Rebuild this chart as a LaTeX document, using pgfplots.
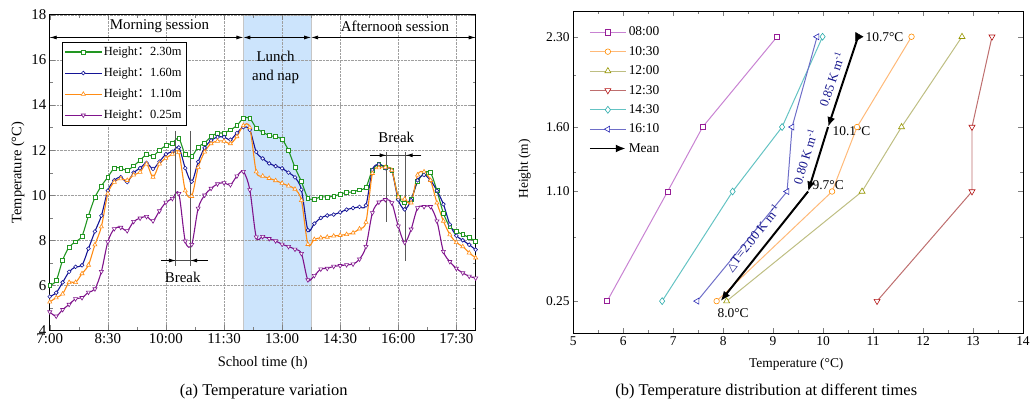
\documentclass[border=0pt]{standalone}
\usepackage{fontspec}
\setmainfont{Liberation Serif}
\newfontfamily\cjk{Noto Sans CJK SC}
\newfontfamily\dejavu{DejaVu Sans}
\usepackage{pgfplots}
\pgfplotsset{compat=1.18}
\usepackage{pgfplotstable}
\usetikzlibrary{arrows.meta}

\definecolor{cg}{RGB}{34,150,34}
\definecolor{cb}{RGB}{20,20,150}
\definecolor{co}{RGB}{255,140,20}
\definecolor{cp}{RGB}{128,20,140}
\definecolor{lunch}{RGB}{204,228,252}
\definecolor{l1}{RGB}{200,130,210}\definecolor{m1}{RGB}{150,30,150}
\definecolor{l2}{RGB}{255,185,120}\definecolor{m2}{RGB}{255,140,0}
\definecolor{l3}{RGB}{190,190,130}\definecolor{m3}{RGB}{150,150,0}
\definecolor{l4}{RGB}{190,110,110}\definecolor{m4}{RGB}{180,20,20}
\definecolor{l5}{RGB}{100,195,195}\definecolor{m5}{RGB}{40,170,170}
\definecolor{l6}{RGB}{110,110,200}\definecolor{m6}{RGB}{40,40,180}
\definecolor{slope}{RGB}{20,20,140}

\pgfplotstableread{
i g b o p
0 6.00 5.50 5.26 4.82
1 6.21 5.67 5.45 4.63
2 7.12 6.13 5.62 4.92
3 7.70 6.60 6.13 5.15
4 7.93 6.82 6.13 5.40
5 8.19 6.89 6.52 5.45
6 9.09 7.63 6.90 5.69
7 9.90 8.39 7.80 5.84
8 10.41 9.09 8.60 6.61
9 10.80 10.20 10.07 7.93
10 11.20 10.66 10.58 8.51
11 11.20 10.80 10.73 8.57
12 11.10 10.58 10.66 8.42
13 11.30 11.00 10.90 8.83
14 11.55 11.20 11.02 8.98
15 11.80 11.43 11.39 9.05
16 11.73 11.17 10.80 8.86
17 12.00 11.49 11.39 9.30
18 12.20 11.82 11.64 9.68
19 12.32 11.93 11.82 9.85
20 12.52 12.12 11.90 10.07
21 11.80 11.20 10.20 7.96
22 11.72 10.60 9.95 7.81
23 12.14 11.48 11.23 9.42
24 12.32 12.10 11.92 10.00
25 12.60 12.43 12.29 10.30
26 12.76 12.58 12.40 10.50
27 12.76 12.58 12.40 10.55
28 12.90 12.46 12.29 10.46
29 13.09 12.76 12.60 10.85
30 13.41 13.02 13.09 11.05
31 13.41 12.90 13.00 10.24
32 12.98 11.92 11.04 8.14
33 12.80 11.63 10.85 8.16
34 12.65 11.41 10.75 8.07
35 12.60 11.29 10.65 7.97
36 12.48 11.19 10.53 7.82
37 11.98 11.00 10.41 7.72
38 11.23 10.79 10.27 7.60
39 10.60 10.24 9.77 7.41
40 9.87 8.45 7.82 6.24
41 9.83 8.74 8.04 6.43
42 9.92 8.99 8.11 6.72
43 9.92 9.10 8.14 6.75
44 9.95 9.14 8.19 6.84
45 10.05 9.24 8.22 6.87
46 10.12 9.36 8.26 6.91
47 10.15 9.43 8.33 6.94
48 10.24 9.48 8.51 7.16
49 10.35 9.55 8.80 7.72
50 11.12 11.12 10.97 9.22
51 11.37 11.37 11.22 9.69
52 11.24 11.20 11.24 9.80
53 11.12 11.10 11.10 9.66
54 9.92 9.80 9.92 8.63
55 9.66 9.37 9.83 7.90
56 9.83 9.78 9.66 8.49
57 10.60 10.66 10.90 9.44
58 10.97 10.90 11.04 9.49
59 11.00 10.66 10.66 9.49
60 10.20 10.20 9.66 8.85
61 9.20 9.60 8.85 7.50
62 8.60 8.70 8.25 7.05
63 8.40 8.20 7.90 6.75
64 8.25 8.00 7.72 6.55
65 8.12 7.80 7.44 6.40
66 7.95 7.58 7.22 6.32
}\dataL

\begin{document}
\begin{tikzpicture}
\path (0pt,0pt) rectangle (1033pt,408pt);

\begin{axis}[
 at={(50pt,76pt)}, anchor=south west, scale only axis, width=428pt, height=317pt,
 xmin=0, xmax=66, ymin=4, ymax=18,
 xtick={0,9,...,63}, xticklabels={7:00,8:30,10:00,11:30,13:00,14:30,16:00,17:30},
 minor xtick={4.5,13.5,22.5,31.5,40.5,49.5,58.5},
 ytick={4,6,...,18}, minor ytick={5,7,...,17},
 tick align=inside, major tick length=5pt, minor tick length=3pt,
 grid=major, grid style={densely dotted, gray!75, line width=0.6pt},
 set layers,
 tick label style={font=\fontsize{15}{17}\selectfont},
 /pgf/number format/assume math mode=true,
 xlabel={School time (h)}, ylabel={Temperature (°C)},
 label style={font=\fontsize{14.5}{16}\selectfont},
 xlabel style={at={(axis description cs:0.5,-0.104)}, anchor=center},
 ylabel style={at={(axis description cs:-0.075,0.5)}, anchor=center},
 legend style={at={(0.028,0.915)}, anchor=north west, draw=black, font=\fontsize{12.5}{14}\selectfont, row sep=7pt, inner sep=3pt},
 legend cell align=left,
 legend image code/.code={\draw[mark repeat=2,mark phase=2,#1] plot coordinates {(0pt,0pt) (18pt,0pt) (36pt,0pt)};},
 axis line style={line width=0.9pt},
]
\addplot[fill=lunch, draw=gray!45, line width=0.8pt, on layer=axis background, forget plot] coordinates {(30,4) (30,18) (40.5,18) (40.5,4) (30,4)};

\addplot[cg, line width=1.1pt, smooth, mark=square*, mark size=1.9pt, mark options={solid, line width=0.6pt, fill=white}] table[x=i,y=g] {\dataL};
\addlegendentry{Height{\cjk ：}2.30m}
\addplot[cb, line width=1.1pt, smooth, mark=*, mark size=1.9pt, mark options={solid, line width=0.6pt, fill=white}] table[x=i,y=b] {\dataL};
\addlegendentry{Height{\cjk ：}1.60m}
\addplot[co, line width=1.1pt, smooth, mark=triangle*, mark size=2.4pt, mark options={solid, line width=0.6pt, fill=white}] table[x=i,y=o] {\dataL};
\addlegendentry{Height{\cjk ：}1.10m}
\addplot[cp, line width=1.1pt, smooth, mark=triangle*, mark size=2.4pt, mark options={solid, line width=0.6pt, fill=white, rotate=180}] table[x=i,y=p] {\dataL};
\addlegendentry{Height{\cjk ：}0.25m}

% sessions
\draw[{Latex[length=7pt,width=4pt]}-{Latex[length=7pt,width=4pt]}, line width=0.8pt] (axis cs:0,17) -- (axis cs:30,17);
\draw[{Latex[length=7pt,width=4pt]}-{Latex[length=7pt,width=4pt]}, line width=0.8pt] (axis cs:30,17) -- (axis cs:40.5,17);
\draw[{Latex[length=7pt,width=4pt]}-{Latex[length=7pt,width=4pt]}, line width=0.8pt] (axis cs:40.5,17) -- (axis cs:66,17);
\node[font=\fontsize{15}{17}\selectfont] at (axis cs:17,17.48) {Morning session};
\node[font=\fontsize{15}{17}\selectfont] at (axis cs:53.5,17.48) {Afternoon session};
\node[font=\fontsize{15}{19}\selectfont, align=center] at (axis cs:35,15.67) {Lunch\\and nap};

% breaks
\draw[black!65, line width=1pt] (axis cs:19.55,12.85) -- (axis cs:19.55,6.85);
\draw[black!65, line width=1pt] (axis cs:21.76,12.85) -- (axis cs:21.76,6.85);
\draw[black!70, line width=0.8pt] (axis cs:17.3,7.1) -- (axis cs:24.5,7.1);
\draw[-{Latex[length=7pt,width=4pt]}, line width=0.8pt] (axis cs:17.3,7.1) -- (axis cs:19.55,7.1);
\draw[-{Latex[length=7pt,width=4pt]}, line width=0.8pt] (axis cs:24.5,7.1) -- (axis cs:21.76,7.1);
\node[font=\fontsize{15}{17}\selectfont] at (axis cs:20.6,6.35) {Break};

\draw[black!65, line width=1pt] (axis cs:52.2,11.9) -- (axis cs:52.2,8.83);
\draw[black!65, line width=1pt] (axis cs:55.15,11.9) -- (axis cs:55.15,7.1);
\draw[black!70, line width=0.8pt] (axis cs:49.7,11.77) -- (axis cs:57.6,11.77);
\draw[-{Latex[length=7pt,width=4pt]}, line width=0.8pt] (axis cs:49.7,11.77) -- (axis cs:52.2,11.77);
\draw[-{Latex[length=7pt,width=4pt]}, line width=0.8pt] (axis cs:57.6,11.77) -- (axis cs:55.15,11.77);
\node[font=\fontsize{15}{17}\selectfont] at (axis cs:53.7,12.58) {Break};
\end{axis}

\begin{axis}[
 at={(576pt,73pt)}, anchor=south west, scale only axis, width=452pt, height=324pt,
 xmin=5, xmax=14, ymin=0, ymax=2.5,
 xtick={5,...,14}, minor x tick num=1,
 ytick={0.25,1.10,1.60,2.30}, yticklabels={0.25,1.10,1.60,2.30},
 minor ytick={0.75,1.25,2.0},
 tick align=inside, major tick length=5pt, minor tick length=3pt,
 tick label style={font=\fontsize{13.5}{15}\selectfont},
 /pgf/number format/assume math mode=true,
 xlabel={Temperature (°C)}, ylabel={Height (m)},
 label style={font=\fontsize{13.5}{15}\selectfont},
 xlabel style={at={(axis description cs:0.496,-0.096)}, anchor=center},
 ylabel style={at={(axis description cs:-0.108,0.51)}, anchor=center},
 legend style={at={(0.028,0.963)}, anchor=north west, draw=none, fill=none, font=\fontsize{13.5}{15}\selectfont, row sep=5pt},
 legend cell align=left,
 legend image code/.code={\draw[mark repeat=2,mark phase=2,#1] plot coordinates {(0pt,0pt) (18pt,0pt) (36pt,0pt)};},
 axis line style={line width=0.9pt},
]
\addplot[l1, line width=1pt, mark=square*, mark size=2.6pt, mark options={draw=m1, fill=white, line width=0.6pt}] coordinates {(5.68,0.25) (6.89,1.10) (7.59,1.60) (9.08,2.30)};
\addlegendentry{08:00}
\addplot[l2, line width=1pt, mark=*, mark size=2.8pt, mark options={draw=m2, fill=white, line width=0.6pt}] coordinates {(7.87,0.25) (10.18,1.10) (10.68,1.60) (11.77,2.30)};
\addlegendentry{10:30}
\addplot[l3, line width=1pt, mark=triangle*, mark size=3.5pt, mark options={draw=m3, fill=white, line width=0.6pt}] coordinates {(8.07,0.25) (10.78,1.10) (11.57,1.60) (12.78,2.30)};
\addlegendentry{12:00}
\addplot[l4, line width=1pt, mark=triangle*, mark size=3.5pt, mark options={draw=m4, fill=white, line width=0.6pt, rotate=180}] coordinates {(11.08,0.25) (12.98,1.10) (12.98,1.60) (13.38,2.30)};
\addlegendentry{12:30}
\addplot[l5, line width=1pt, mark=diamond*, mark size=3.5pt, mark options={draw=m5, fill=white, line width=0.6pt}] coordinates {(6.78,0.25) (8.19,1.10) (9.18,1.60) (9.99,2.30)};
\addlegendentry{14:30}
\addplot[l6, line width=1pt, mark=triangle*, mark size=3.5pt, mark options={draw=m6, fill=white, line width=0.6pt, rotate=90}] coordinates {(7.48,0.25) (9.28,1.10) (9.38,1.60) (9.88,2.30)};
\addlegendentry{16:10}

\addplot[black, line width=2pt, -{Latex[length=10pt,width=8pt]}, legend image code/.code={\draw[black,line width=2pt,-{Latex[length=10pt,width=8pt]}] (0pt,0pt) -- (36pt,0pt);}] coordinates {(10.7,2.30) (10.1,1.60)};
\addlegendentry{Mean}
\addplot[black, line width=2pt, -{Latex[length=10pt,width=8pt]}, forget plot] coordinates {(10.1,1.60) (9.7,1.10)};
\addplot[black, line width=2pt, -{Latex[length=10pt,width=8pt]}, forget plot] coordinates {(9.7,1.10) (7.95,0.25)};
\addplot[only marks, mark=triangle*, mark size=5pt, mark options={rotate=-90, fill=black, draw=black}, forget plot] coordinates {(10.7,2.30)};

\node[anchor=west, font=\fontsize{13.5}{15}\selectfont] at (axis cs:10.78,2.30) {10.7°C};
\node[anchor=west, font=\fontsize{13.5}{15}\selectfont] at (axis cs:10.12,1.57) {10.1°C};
\node[anchor=west, font=\fontsize{13.5}{15}\selectfont] at (axis cs:9.72,1.15) {9.7°C};
\node[font=\fontsize{13.5}{15}\selectfont] at (axis cs:8.2,0.16) {8.0°C};
\node[rotate=71.7, text=slope, font=\fontsize{13}{15}\selectfont] at (axis cs:10.17,1.97) {0.85 K m\textsuperscript{-1}};
\node[rotate=72.8, text=slope, font=\fontsize{13}{15}\selectfont] at (axis cs:9.64,1.37) {0.80 K m\textsuperscript{-1}};
\node[rotate=51.5, text=slope, font=\fontsize{13}{15}\selectfont] at (axis cs:8.6,0.74) {{\dejavu\fontsize{11}{13}\selectfont △}T=2.00 K m\textsuperscript{-1}};
\end{axis}

\node[font=\fontsize{16.5}{18}\selectfont] at (265pt,15pt) {(a) Temperature variation};
\node[font=\fontsize{16.5}{18}\selectfont] at (770pt,15pt) {(b) Temperature distribution at different times};
\end{tikzpicture}
\end{document}
